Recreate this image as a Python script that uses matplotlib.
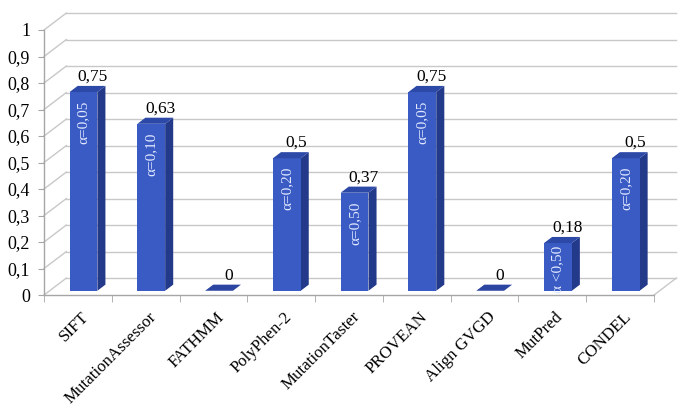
import matplotlib
matplotlib.use("Agg")
import matplotlib.pyplot as plt
from matplotlib.patches import Polygon
from matplotlib.transforms import ScaledTranslation

plt.rcParams['font.family'] = ['Liberation Serif', 'DejaVu Serif']

categories = ["SIFT", "MutationAssessor", "FATHMM", "PolyPhen-2", "MutationTaster",
              "PROVEAN", "Align GVGD", "MutPred", "CONDEL"]
values = [0.75, 0.63, 0, 0.5, 0.37, 0.75, 0, 0.18, 0.5]
value_labels = ["0,75", "0,63", "0", "0,5", "0,37", "0,75", "0", "0,18", "0,5"]
alpha_labels = ["α=0,05", "α=0,10", "", "α=0,20", "α=0,50", "α=0,05", "", "α <0,50", "α=0,20"]
ytick_vals = [0, 0.1, 0.2, 0.3, 0.4, 0.5, 0.6, 0.7, 0.8, 0.9, 1.0]
ytick_labels = ["0", "0,1", "0,2", "0,3", "0,4", "0,5", "0,6", "0,7", "0,8", "0,9", "1"]

# pseudo-3D depth offsets (data units)
DX, DY = 0.33, 0.064
F, D = 0.25, 0.36      # bar front depth fraction, bar depth
W = 0.41               # bar width

FRONT = "#3A5BC4"
SIDE = "#23398A"
TOP = "#2C49A8"
GRID = "#C8C8C8"
AXC = "#A6A6A6"

fig = plt.figure(figsize=(6.87, 4.16), dpi=100)
ax = fig.add_axes([44/687, 121/416, 610/687, 265/416])
n = len(categories)
ax.set_xlim(-0.5, n - 0.5)
ax.set_ylim(0, 1)
ax.set_facecolor("none")

def P(x, y, d):
    return (x + d * DX, y + d * DY)

# back wall gridlines and left wall diagonals
for v in ytick_vals:
    a = P(-0.5, v, 1); b = P(n - 0.5, v, 1)
    ax.plot([a[0], b[0]], [a[1], b[1]], color=GRID, lw=1, clip_on=False, zorder=1)
    c = P(-0.5, v, 0)
    ax.plot([c[0], a[0]], [c[1], a[1]], color=GRID, lw=1, clip_on=False, zorder=1)
# floor right edge
a = P(n - 0.5, 0, 0); b = P(n - 0.5, 0, 1)
ax.plot([a[0], b[0]], [a[1], b[1]], color=GRID, lw=1, clip_on=False, zorder=1)

# bars
xs = list(range(n))
ax.bar([x + F * DX for x in xs], values, width=W, bottom=F * DY,
       color=FRONT, zorder=3)
for i, v in enumerate(values):
    x0 = i - W / 2
    side = [P(x0 + W, 0, F), P(x0 + W, v, F), P(x0 + W, v, F + D), P(x0 + W, 0, F + D)]
    top = [P(x0, v, F), P(x0 + W, v, F), P(x0 + W, v, F + D), P(x0, v, F + D)]
    if v > 0:
        ax.add_patch(Polygon(side, closed=True, facecolor=SIDE, edgecolor="none", zorder=2.5))
    ax.add_patch(Polygon(top, closed=True, facecolor=TOP if v > 0 else "#2B45A0",
                         edgecolor="none", zorder=3.5))
    # value label
    lx, ly = P(i, v, F + D)
    ax.text(i + (F + D) * DX * 0.9 + 0.04, ly + 0.004, value_labels[i], ha="center",
            va="bottom", fontsize=12.5, color="black", zorder=5)
    # alpha label inside bar
    if alpha_labels[i]:
        cx = i + F * DX
        topy = v + F * DY - 0.03
        half = 0.085
        cy = max(topy - half, half + 0.01)
        ax.text(cx, cy, alpha_labels[i], rotation=90, ha="center", va="center",
                fontsize=11, color="#E2E9FF", zorder=5)

# axes styling
for s in ["top", "right"]:
    ax.spines[s].set_visible(False)
for s in ["left", "bottom"]:
    ax.spines[s].set_color(AXC)
    ax.spines[s].set_linewidth(1)
ax.set_yticks(ytick_vals)
ax.set_yticklabels(ytick_labels, fontsize=13)
ax.tick_params(axis="y", length=4, color=AXC, pad=6)
ax.set_xticks(xs)
ax.set_xticklabels(categories, rotation=45, ha="right", rotation_mode="anchor",
                   fontsize=12.2)
ax.tick_params(axis="x", which="major", length=0, pad=10)
for lab in ax.get_xticklabels():
    lab.set_transform(lab.get_transform() + ScaledTranslation(2/72, 0, fig.dpi_scale_trans))
ax.set_xticks([i - 0.5 for i in range(n + 1)], minor=True)
ax.tick_params(axis="x", which="minor", length=5, color=AXC)

fig.savefig("out.png", dpi=100)
